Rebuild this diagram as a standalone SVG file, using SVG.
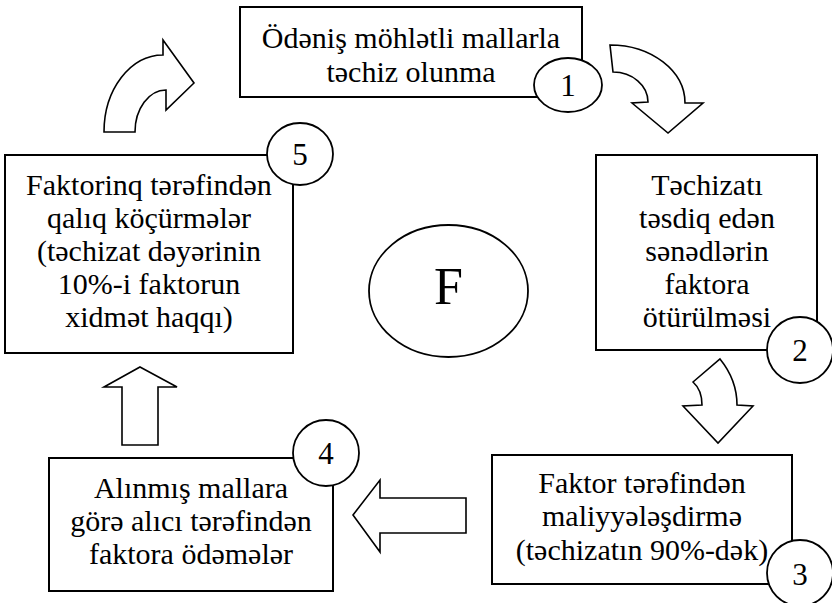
<svg xmlns="http://www.w3.org/2000/svg" width="832" height="603" viewBox="0 0 832 603">
  <style>
    .box { fill: #fff; stroke: #000; stroke-width: 2; }
    .badge { fill: #fff; stroke: #000; stroke-width: 1.8; }
    .arrow { fill: #fff; stroke: #000; stroke-width: 1.6; stroke-linejoin: miter; }
    text { font-family: "Liberation Serif", "Times New Roman", serif; fill: #000; text-anchor: middle; }
    .lbl { font-size: 30px; }
    .num { font-size: 31px; }
    .big { font-size: 52px; }
  </style>
  <rect width="832" height="603" fill="#fff"/>

  <!-- flow arrows between the steps -->
  <g id="connectors">
    <path class="arrow" d="M104,132 L135,132 A31 42 0 0 1 166,90 L166,110 L194,83 L163,40 L163,55 A59 77 0 0 0 104,132 Z"/>
    <path class="arrow" d="M610,45 A75 58 0 0 1 685,103 L703,103 L668,133 L632,103 L648,102 A35 30 0 0 0 613,72 Z"/>
    <path class="arrow" d="M693,382 L720,359 Q737,380 737,405 L753,406 L718,443 L683,406 L702,405 Q702,390 693,382 Z"/>
    <path class="arrow" d="M353,515 L380,480 L380,498 L466,498 L466,533 L380,533 L380,552 Z"/>
    <path class="arrow" d="M140,367 L177,387 L158,387 L158,445 L122,445 L122,387 L104,387 Z"/>
  </g>

  <g id="step1">
    <rect class="box" x="240" y="7" width="342" height="90"/>
    <text class="lbl" x="411" y="48">Ödəniş möhlətli mallarla</text>
    <text class="lbl" x="411" y="82">təchiz olunma</text>
    <ellipse class="badge" cx="568" cy="85" rx="34" ry="27"/>
    <text class="num" x="568" y="96">1</text>
  </g>

  <g id="step2">
    <rect class="box" x="596" y="155" width="221" height="195"/>
    <text class="lbl" x="707" y="195">Təchizatı</text>
    <text class="lbl" x="707" y="228">təsdiq edən</text>
    <text class="lbl" x="707" y="261">sənədlərin</text>
    <text class="lbl" x="707" y="294">faktora</text>
    <text class="lbl" x="707" y="327">ötürülməsi</text>
    <circle class="badge" cx="800" cy="350" r="33"/>
    <text class="num" x="800" y="361">2</text>
  </g>

  <g id="step3">
    <rect class="box" x="492" y="455" width="300" height="129"/>
    <text class="lbl" x="642" y="493">Faktor tərəfindən</text>
    <text class="lbl" x="642" y="526">maliyyələşdirmə</text>
    <text class="lbl" x="642" y="560">(təchizatın 90%-dək)</text>
    <circle class="badge" cx="800" cy="573" r="33"/>
    <text class="num" x="800" y="585">3</text>
  </g>

  <g id="step4">
    <rect class="box" x="49" y="458" width="284" height="133"/>
    <text class="lbl" x="191" y="498">Alınmış mallara</text>
    <text class="lbl" x="191" y="531">görə alıcı tərəfindən</text>
    <text class="lbl" x="191" y="564">faktora ödəmələr</text>
    <circle class="badge" cx="326" cy="453" r="33"/>
    <text class="num" x="326" y="464">4</text>
  </g>

  <g id="step5">
    <rect class="box" x="5" y="155" width="288" height="198"/>
    <text class="lbl" x="149" y="195">Faktorinq tərəfindən</text>
    <text class="lbl" x="149" y="228">qalıq köçürmələr</text>
    <text class="lbl" x="149" y="261">(təchizat dəyərinin</text>
    <text class="lbl" x="149" y="294">10%-i faktorun</text>
    <text class="lbl" x="149" y="327">xidmət haqqı)</text>
    <ellipse class="badge" cx="300" cy="154" rx="33" ry="31"/>
    <text class="num" x="300" y="165">5</text>
  </g>

  <g id="center">
    <ellipse class="badge" cx="448.5" cy="291" rx="79.5" ry="66"/>
    <text class="big" x="448.5" y="304">F</text>
  </g>
</svg>
